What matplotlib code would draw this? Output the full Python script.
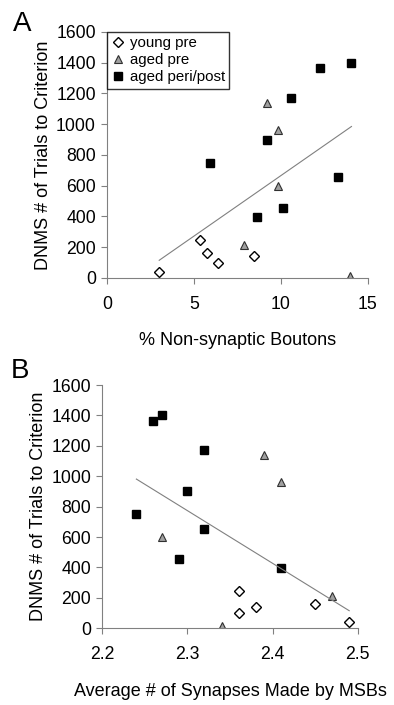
import numpy as np
import matplotlib
matplotlib.use("Agg")
import matplotlib.pyplot as plt

plt.rcParams['font.family'] = ['Liberation Sans', 'DejaVu Sans']

# trials to criterion (same animals in both panels)
young_trials = [40, 245, 160, 100, 140]
pre_trials = [1140, 960, 600, 215, 15]
post_trials = [1400, 1365, 1170, 900, 750, 655, 455, 395]

# panel A: % non-synaptic boutons
young_nsb = [3.0, 5.35, 5.75, 6.4, 8.45]
pre_nsb = [9.2, 9.85, 9.85, 7.9, 13.95]
post_nsb = [14.05, 12.25, 10.55, 9.2, 5.9, 13.3, 10.1, 8.6]

# panel B: average # synapses made by MSBs
young_syn = [2.49, 2.36, 2.45, 2.36, 2.38]
pre_syn = [2.39, 2.41, 2.27, 2.47, 2.34]
post_syn = [2.27, 2.26, 2.32, 2.30, 2.24, 2.32, 2.29, 2.41]

group_names = ["young pre", "aged pre", "aged peri/post"]
y_ticks = [0, 200, 400, 600, 800, 1000, 1200, 1400, 1600]

fig = plt.figure(figsize=(3.94, 7.05), dpi=100)
axA = fig.add_axes([0.2716, 0.6057, 0.6624, 0.349])
axB = fig.add_axes([0.2597, 0.1088, 0.6482, 0.3451])

grey = "#808080"


def panel(ax, xs, xlim, xticks, xticklabels, xlabel, letter, letter_y, legend=False):
    ys = [young_trials, pre_trials, post_trials]
    ax.plot(xs[0], ys[0], linestyle="none", marker="D", ms=5.5, mfc="white",
            mec="black", mew=1.0, label=group_names[0])
    ax.plot(xs[1], ys[1], linestyle="none", marker="^", ms=6, mfc="#a0a0a0",
            mec="#303030", mew=0.8, label=group_names[1])
    ax.plot(xs[2], ys[2], linestyle="none", marker="s", ms=5.3, mfc="black",
            mec="black", label=group_names[2])

    # least squares trend line over all animals
    allx = np.concatenate([np.array(v, float) for v in xs])
    ally = np.concatenate([np.array(v, float) for v in ys])
    m, b = np.polyfit(allx, ally, 1)
    lx = np.array([allx.min(), allx.max()])
    ax.plot(lx, m * lx + b, color=grey, lw=0.8)

    ax.set_xlim(xlim)
    ax.set_ylim(0, 1600)
    ax.set_xticks(xticks)
    ax.set_xticklabels(xticklabels)
    ax.set_yticks(y_ticks)
    for s in ["top", "right"]:
        ax.spines[s].set_visible(False)
    for s in ["left", "bottom"]:
        ax.spines[s].set_color(grey)
        ax.spines[s].set_linewidth(0.8)
    ax.tick_params(axis="both", colors=grey, labelcolor="black", labelsize=12.7,
                   length=4, width=0.8)
    ax.tick_params(axis="x", pad=9)
    ax.tick_params(axis="y", pad=4)
    ax.set_xlabel(xlabel, fontsize=13, labelpad=14)
    ax.set_ylabel("DNMS # of Trials to Criterion", fontsize=13, labelpad=3)
    ax.text(-0.36, letter_y, letter, transform=ax.transAxes, fontsize=20,
            ha="left", va="center")
    if legend:
        leg = ax.legend(loc="upper left", bbox_to_anchor=(0, 1), borderaxespad=0,
                        fontsize=10.8, frameon=True, fancybox=False,
                        edgecolor="black", labelspacing=0.2, handlelength=0.8,
                        handletextpad=0.4, borderpad=0.3)
        leg.get_frame().set_linewidth(1.0)


panel(axA, [young_nsb, pre_nsb, post_nsb], (0, 15), [0, 5, 10, 15],
      ["0", "5", "10", "15"], "% Non-synaptic Boutons", "A", 1.032, legend=True)
panel(axB, [young_syn, pre_syn, post_syn], (2.2, 2.5), [2.2, 2.3, 2.4, 2.5],
      ["2.2", "2.3", "2.4", "2.5"], "Average # of Synapses Made by MSBs", "B", 1.058)

fig.savefig("out.png", dpi=100)
